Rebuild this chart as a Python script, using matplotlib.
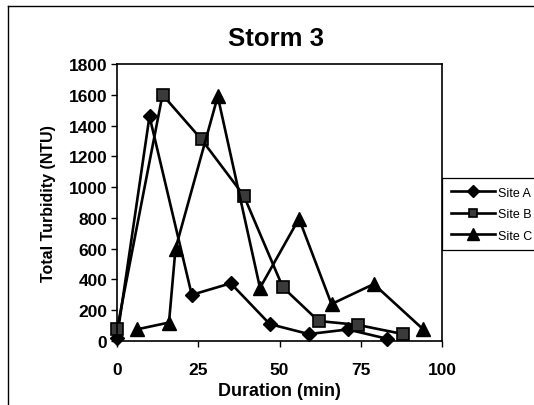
import matplotlib
matplotlib.use("Agg")
import matplotlib.pyplot as plt
from matplotlib.lines import Line2D

# values
site_a_x = [0, 10, 23, 35, 47, 59, 71, 83]
site_a_y = [20, 1460, 300, 375, 110, 45, 75, 15]
site_b_x = [0, 14, 26, 39, 51, 62, 74, 88]
site_b_y = [75, 1600, 1310, 945, 350, 130, 105, 45]
site_c_x = [6, 16, 18, 31, 44, 56, 66, 79, 94]
site_c_y = [75, 120, 600, 1590, 345, 795, 240, 370, 80]

x_ticks = [0, 25, 50, 75, 100]
y_ticks = [0, 200, 400, 600, 800, 1000, 1200, 1400, 1600, 1800]

plt.rcParams['font.family'] = ['Liberation Sans', 'DejaVu Sans']
plt.rcParams['font.weight'] = 'bold'

fig = plt.figure(figsize=(5.34, 4.06), dpi=100)
ax = fig.add_axes([117 / 534, 1 - 342 / 406, (442 - 117) / 534, (342 - 65) / 406])

lw = 1.9
ax.plot(site_a_x, site_a_y, color='black', lw=lw, marker='D', ms=7.5,
        mfc='black', mec='black', label='Site A', clip_on=False)
ax.plot(site_b_x, site_b_y, color='black', lw=lw, marker='s', ms=8,
        mfc='#3a3a3a', mec='black', mew=1.2, label='Site B', clip_on=False)
ax.plot(site_c_x, site_c_y, color='black', lw=lw, marker='^', ms=10,
        mfc='black', mec='black', label='Site C', clip_on=False)

ax.set_xlim(0, 100)
ax.set_ylim(0, 1800)
ax.set_xticks(x_ticks)
ax.set_yticks(y_ticks)
ax.tick_params(direction='out', length=4, width=1, labelsize=12.5,
               top=False, right=False, pad=3)
ax.tick_params(axis='x', pad=11)
for lab in ax.get_xticklabels() + ax.get_yticklabels():
    lab.set_fontweight('bold')
for sp in ax.spines.values():
    sp.set_linewidth(1.2)
    sp.set_color('black')

ax.set_title('Storm 3', fontsize=18.5, fontweight='bold', pad=14, x=0.49)
ax.set_xlabel('Duration (min)', fontsize=13, fontweight='bold', labelpad=4)
ax.set_ylabel('Total Turbidity (NTU)', fontsize=11.5, fontweight='bold', labelpad=9)

leg = ax.legend(loc='center left', bbox_to_anchor=(1.0, 0.458), borderaxespad=0,
                fontsize=9, handlelength=3.5, handletextpad=0.25, labelspacing=0.75,
                borderpad=0.7, fancybox=False, framealpha=1, edgecolor='black',
                numpoints=1, markerscale=0.8)
leg.get_frame().set_linewidth(0.9)
for t in leg.get_texts():
    t.set_fontweight('normal')

# outer chart border (partly cut off at right and bottom)
fig.add_artist(Line2D([8 / 534, 8 / 534], [0, 1 - 7 / 406], color='black', lw=1))
fig.add_artist(Line2D([8 / 534, 1], [1 - 7 / 406, 1 - 7 / 406], color='black', lw=1))

fig.savefig('out.png', dpi=100)
